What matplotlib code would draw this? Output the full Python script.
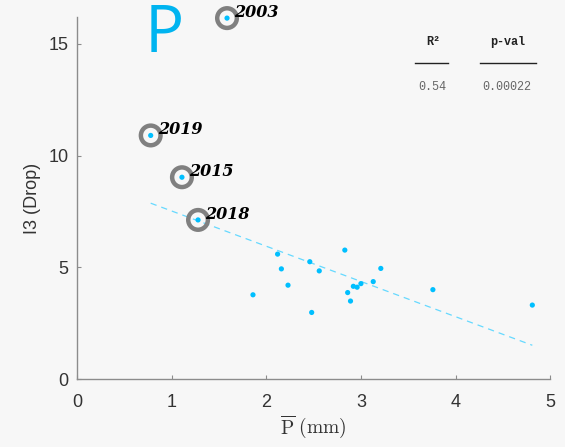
import numpy as np
import matplotlib
matplotlib.use('Agg')
import matplotlib.pyplot as plt

# data
p_mean = [1.86, 2.12, 2.16, 2.23, 2.46, 2.48, 2.56, 2.83, 2.86, 2.89,
          2.92, 2.96, 3.00, 3.13, 3.21, 3.76, 4.81]
i3_drop = [3.77, 5.59, 4.93, 4.20, 5.25, 2.98, 4.84, 5.77, 3.87, 3.49,
           4.15, 4.11, 4.27, 4.36, 4.95, 4.00, 3.31]

years = ['2003', '2019', '2015', '2018']
years_p = [1.586, 0.78, 1.11, 1.28]
years_i3 = [16.15, 10.9, 9.03, 7.12]

# the fit leaves 2003 out (gives R2 = 0.54)
fit_exclude = ['2003']

r2 = '0.54'
pval = '0.00022'

BG = '#f7f7f7'
CYAN = '#00bfff'

plt.rcParams['mathtext.fontset'] = 'cm'

fig = plt.figure(figsize=(5.65, 4.47), dpi=100, facecolor=BG)
ax = fig.add_axes([0.136, 0.152, 0.838, 0.810], facecolor=BG)

# regression line
fx = p_mean + [x for yr, x in zip(years, years_p) if yr not in fit_exclude]
fy = i3_drop + [y for yr, y in zip(years, years_i3) if yr not in fit_exclude]
k, b = np.polyfit(fx, fy, 1)
xs = np.array([min(fx), max(fx)])
ax.plot(xs, k * xs + b, ls=(0, (5, 4)), color='#66d9ff', lw=0.9)

ax.scatter(years_p, years_i3, s=200, facecolor='none', edgecolor='#808080',
           linewidth=3.2, zorder=3, clip_on=False)
ax.scatter(p_mean + years_p, i3_drop + years_i3, s=14, color=CYAN,
           edgecolor='none', zorder=4, clip_on=False)

for yr, x, y in zip(years, years_p, years_i3):
    ax.annotate(yr, (x, y), xytext=(5, 4), textcoords='offset points',
                family='DejaVu Serif', weight='bold', style='italic',
                fontsize=11.5, color='black', va='center', zorder=5,
                annotation_clip=False)

ax.set_xlim(0, 5)
ax.set_ylim(0, 16.2)
ax.set_xticks([0, 1, 2, 3, 4, 5])
ax.set_yticks([0, 5, 10, 15])
for s in ['top', 'right']:
    ax.spines[s].set_visible(False)
for s in ['left', 'bottom']:
    ax.spines[s].set_color('#8c8c8c')
    ax.spines[s].set_linewidth(1.0)
ax.tick_params(direction='in', length=3, color='#8c8c8c', labelsize=13,
               labelcolor='#333333', pad=6)
ax.tick_params(axis='x', pad=11)
for lbl in ax.get_xticklabels() + ax.get_yticklabels():
    lbl.set_family('Liberation Sans')

ax.set_xlabel(r'$\overline{\rm P}\ \rm (mm)$', fontsize=14, color='#333333',
              labelpad=1)
ax.set_ylabel('I3 (Drop)', fontsize=13, color='#333333',
              family='Liberation Sans', labelpad=5)

# big letter
fig.text(164 / 565, 1 - 52 / 447, 'P', fontsize=47, color='#00b4f0',
         family='Open Sans', ha='center', va='baseline')

# stats table
mono = 'Liberation Mono'
fig.text(433 / 565, 1 - 42 / 447, 'R²', family=mono, weight='bold',
         fontsize=8.5, ha='center', va='center', color='#222222')
fig.text(508 / 565, 1 - 42 / 447, 'p-val', family=mono, weight='bold',
         fontsize=8.5, ha='center', va='center', color='#222222')
fig.add_artist(plt.Line2D([415 / 565, 448 / 565], [1 - 63 / 447] * 2,
                          color='#222222', lw=1.0))
fig.add_artist(plt.Line2D([480 / 565, 536 / 565], [1 - 63 / 447] * 2,
                          color='#222222', lw=1.0))
fig.text(432 / 565, 1 - 87 / 447, r2, family=mono, fontsize=8.5,
         ha='center', va='center', color='#666666')
fig.text(507 / 565, 1 - 87 / 447, pval, family=mono, fontsize=8.5,
         ha='center', va='center', color='#666666')

fig.savefig('out.png', dpi=100, facecolor=BG)
